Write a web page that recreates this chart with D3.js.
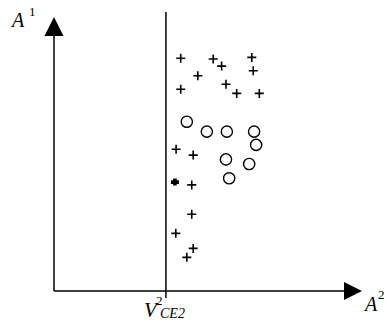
<!DOCTYPE html>
<html>
<head>
<meta charset="utf-8">
<script src="https://cdn.jsdelivr.net/npm/d3@7"></script>
<style>
  html, body { margin: 0; padding: 0; background: #fff; }
  svg { display: block; }
</style>
</head>
<body>
<svg id="chart" width="386" height="331"></svg>
<script>
// Class "+" samples (A2, A1)
const plusX = [4.37, 5.49, 5.78, 6.82, 6.87, 4.96, 4.37, 5.93, 6.30, 7.08, 4.21, 4.80, 4.75, 4.75, 4.20, 4.80, 4.58];
const plusY = [9.13, 9.10, 8.82, 9.16, 8.64, 8.44, 7.91, 8.11, 7.75, 7.75, 5.56, 5.33, 4.16, 3.01, 2.26, 1.67, 1.32];
// Class "o" samples (A2, A1)
const circX = [4.58, 5.27, 5.96, 6.90, 6.97, 5.93, 6.73, 6.04];
const circY = [6.64, 6.25, 6.25, 6.25, 5.73, 5.16, 4.98, 4.42];
// Highlighted sample
const boldX = [4.17];
const boldY = [4.27];
// Threshold on the A2 axis
const threshold = 3.86;
const xDomain = [0, 10];
const yDomain = [0, 10];

const serif = "'Liberation Serif', 'DejaVu Serif', serif";
const svg = d3.select("#chart");
const x = d3.scaleLinear().domain(xDomain).range([54, 344]);
const y = d3.scaleLinear().domain(yDomain).range([291, 36]);

const ink = "#000";

// Axes
svg.append("line")
  .attr("x1", x(0)).attr("y1", y(0)).attr("x2", x(0)).attr("y2", y(10))
  .attr("stroke", ink).attr("stroke-width", 1.5);
svg.append("line")
  .attr("x1", x(0)).attr("y1", y(0)).attr("x2", x(10)).attr("y2", y(0))
  .attr("stroke", ink).attr("stroke-width", 1.5);

// Arrowheads
const ax0 = x(0), ay1 = y(10);
svg.append("path")
  .attr("d", `M${ax0},${ay1 - 19} L${ax0 - 9.5},${ay1} L${ax0 + 9.5},${ay1} Z`)
  .attr("fill", ink);
const bx1 = x(10), by0 = y(0);
svg.append("path")
  .attr("d", `M${bx1 + 18},${by0} L${bx1},${by0 - 9} L${bx1},${by0 + 9} Z`)
  .attr("fill", ink);

// Threshold line
svg.append("line")
  .attr("x1", x(threshold)).attr("x2", x(threshold))
  .attr("y1", y(10) - 24).attr("y2", y(0) + 7)
  .attr("stroke", ink).attr("stroke-width", 1.5);

// Plus markers
const plusData = plusX.map((v, i) => ({ x: v, y: plusY[i] }));
const arm = 4.5;
const pg = svg.append("g").attr("stroke", ink).attr("stroke-width", 1.6);
pg.selectAll("path.plus").data(plusData).join("path")
  .attr("class", "plus")
  .attr("d", d => `M${x(d.x) - arm},${y(d.y)} H${x(d.x) + arm} M${x(d.x)},${y(d.y) - arm} V${y(d.y) + arm}`);

// Highlighted marker
const boldData = boldX.map((v, i) => ({ x: v, y: boldY[i] }));
svg.append("g").attr("stroke", ink).attr("stroke-width", 3.6)
  .selectAll("path").data(boldData).join("path")
  .attr("d", d => `M${x(d.x) - 4},${y(d.y)} H${x(d.x) + 4} M${x(d.x)},${y(d.y) - 3.5} V${y(d.y) + 3.5}`);

// Circle markers
const circData = circX.map((v, i) => ({ x: v, y: circY[i] }));
svg.append("g").selectAll("circle").data(circData).join("circle")
  .attr("cx", d => x(d.x)).attr("cy", d => y(d.y)).attr("r", 5.6)
  .attr("fill", "none").attr("stroke", ink).attr("stroke-width", 1.4);

// Axis labels
const label = (px, py, size, italic, str) =>
  svg.append("text").attr("x", px).attr("y", py)
    .attr("font-family", serif).attr("font-size", size)
    .attr("font-style", italic ? "italic" : "normal")
    .attr("fill", ink).text(str);

label(12, 27, 20, true, "A");
label(29, 16, 13, false, "1");

label(365, 311, 20, true, "A");
label(378, 299, 13, false, "2");

label(144, 317, 21, true, "V");
label(156, 305, 13, false, "2");
label(160, 318, 14, true, "CE2");
</script>
</body>
</html>
